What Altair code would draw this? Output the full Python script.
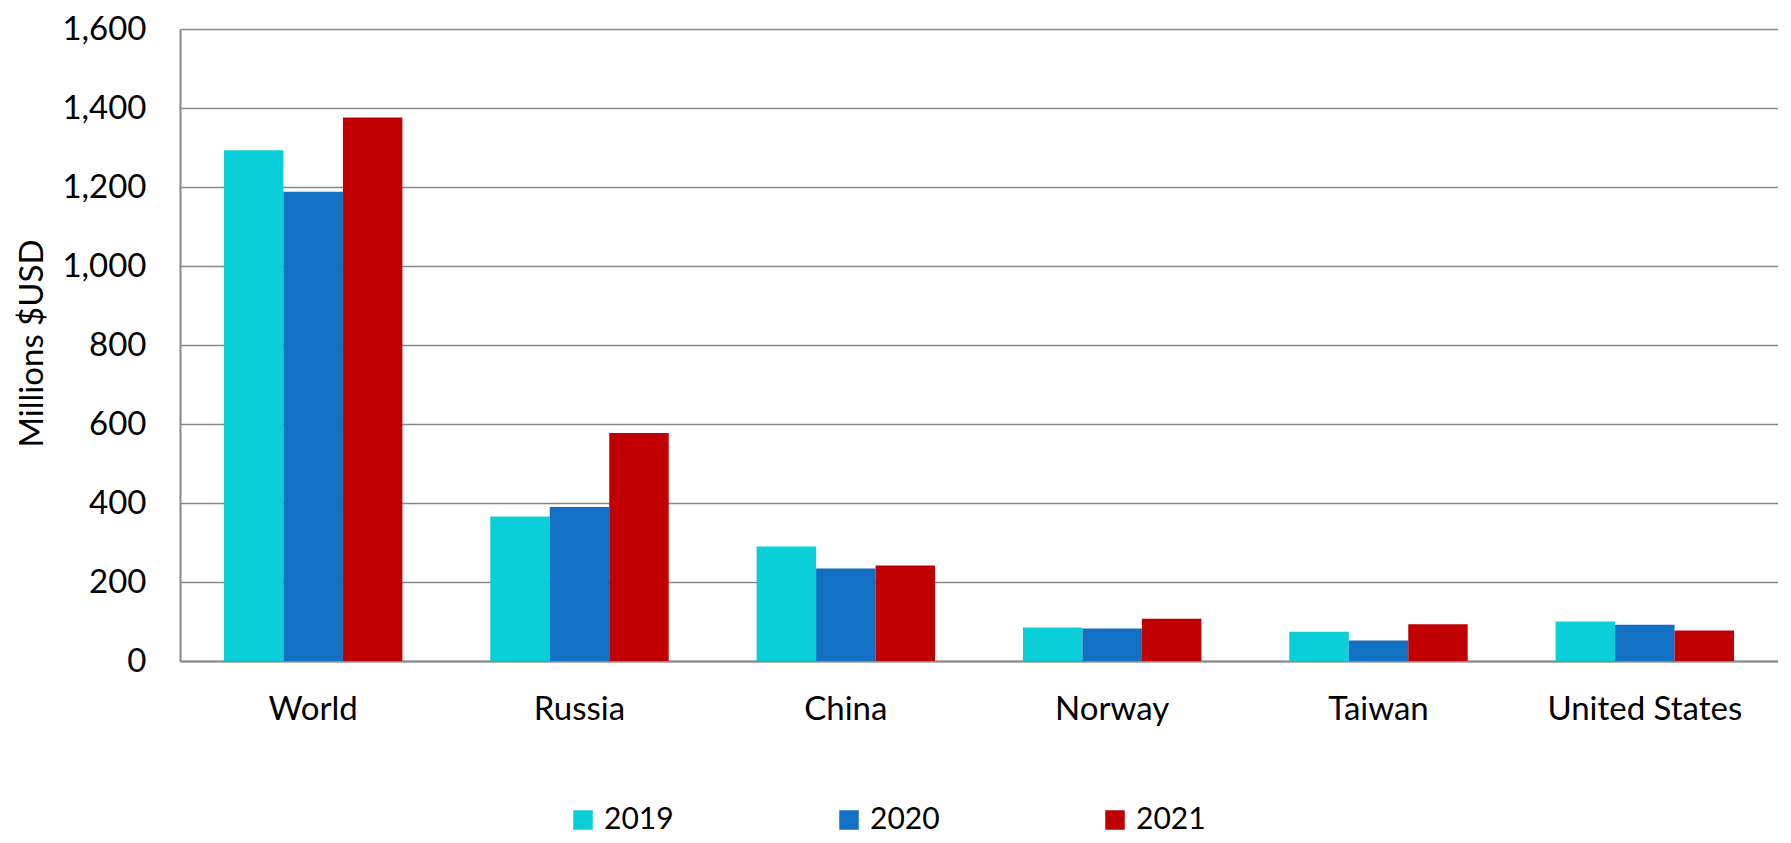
import altair as alt
import pandas as pd

countries = ["World", "Russia", "China", "Norway", "Taiwan", "United States"]
years = ["2019", "2020", "2021"]
v2019 = [1293, 366, 290, 85, 74, 100]
v2020 = [1188, 390, 234, 82, 52, 92]
v2021 = [1376, 577, 242, 107, 93, 77]
colors = ["#0BCFD8", "#1170C4", "#C00000"]

rows = []
for yr, vals in zip(years, [v2019, v2020, v2021]):
    for c, v in zip(countries, vals):
        rows.append({"Country": c, "Year": yr, "Value": v})
df = pd.DataFrame(rows)

FONT = "Lato"

chart = alt.Chart(df).mark_bar().encode(
    x=alt.X("Country:N", sort=countries,
            scale=alt.Scale(paddingInner=0.33, paddingOuter=0.165),
            axis=alt.Axis(title=None, labelAngle=0, labelFont=FONT, labelFontSize=33,
                          labelColor="#000000", labelPadding=32, labelLimit=0, ticks=False,
                          domainColor="#888888", domainWidth=2)),
    xOffset=alt.XOffset("Year:N", sort=years),
    y=alt.Y("Value:Q", scale=alt.Scale(domain=[0, 1600]),
            axis=alt.Axis(title="Millions $USD", values=list(range(0, 1601, 200)),
                          format=",.0f", labelFont=FONT, labelFontSize=33, labelColor="#000000",
                          labelPadding=34, ticks=False, grid=True, gridColor="#888888",
                          gridWidth=1.5, domainColor="#888888", domainWidth=2,
                          titleFont=FONT, titleFontSize=33, titleFontWeight="normal",
                          titleColor="#000000", titleX=-148, titleY=314,
                          titleBaseline="middle", titleAlign="center")),
    color=alt.Color("Year:N", sort=years,
                    scale=alt.Scale(domain=years, range=colors),
                    legend=alt.Legend(title=None, orient="none", direction="horizontal",
                                      legendX=388, legendY=776, symbolType="square",
                                      symbolSize=380, symbolStrokeWidth=0,
                                      labelFont=FONT, labelFontSize=30, labelColor="#000000",
                                      columnPadding=160, labelOffset=6)),
).properties(
    width=1598, height=632,
    autosize=alt.AutoSizeParams(type="none"),
    padding={"left": 172, "top": 21, "right": 0, "bottom": 180},
).configure_view(stroke=None).configure(background="#ffffff")

chart.save("out.html", embed_options={"renderer": "svg", "actions": False})
